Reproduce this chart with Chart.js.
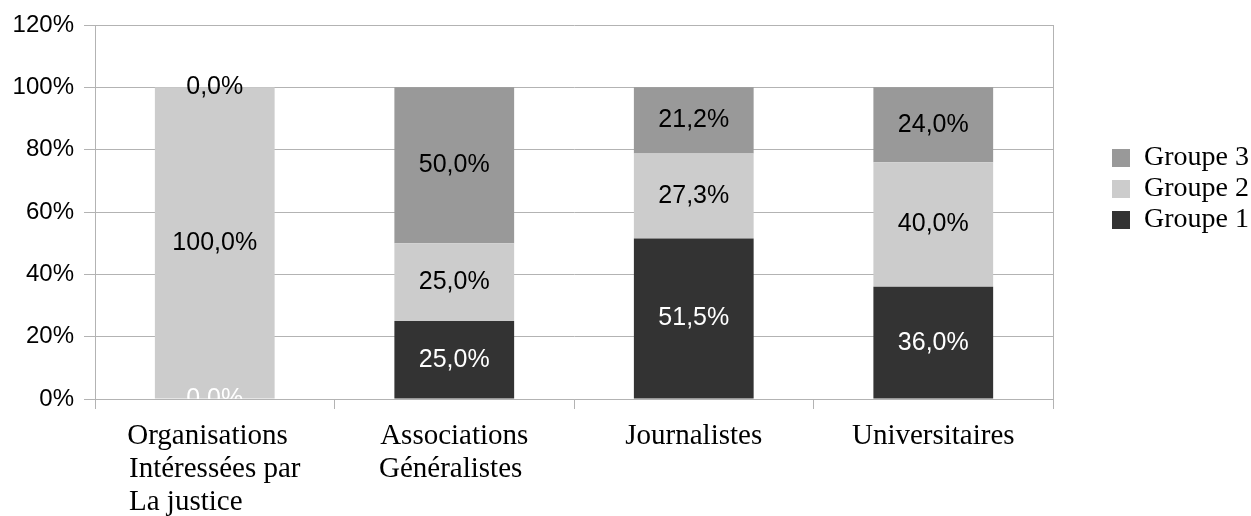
<!DOCTYPE html>
<html>
<head>
<meta charset="utf-8">
<script src="https://cdn.jsdelivr.net/npm/chart.js@4.4.1/dist/chart.umd.min.js"></script>
<style>
  body { margin: 0; background: #fff; }
  #wrap { width: 1251px; height: 516px; }
</style>
</head>
<body>
<div id="wrap"><canvas id="canvas"></canvas></div>
<script>
// categories and values (percent)
var categories = [
    ['Organisations', 'Intéressées par', 'La justice'],
    ['Associations', 'Généralistes'],
    'Journalistes',
    'Universitaires'
];
var groupe1 = [0, 25, 51.5, 36];
var groupe2 = [100, 25, 27.3, 40];
var groupe3 = [0, 50, 21.2, 24];
var yTicks = [0, 20, 40, 60, 80, 100, 120];

var gridColor = '#b3b3b3';
var serif = '"Liberation Serif", "Times New Roman", serif';
Chart.defaults.color = '#000';

// lines of a category label are left aligned in the original:
// pad the shorter lines with spaces so centred lines line up on the left
var measureCtx = document.createElement('canvas').getContext('2d');
measureCtx.font = '29px ' + serif;
function leftAlign(lines) {
    if (!Array.isArray(lines)) return lines;
    var widths = lines.map(function (l) { return measureCtx.measureText(l).width; });
    var maxW = Math.max.apply(null, widths);
    var sp = measureCtx.measureText(' ').width;
    return lines.map(function (l, i) {
        var n = Math.round((maxW - widths[i]) / sp);
        return l + ' '.repeat(n);
    });
}

// value labels in the middle of each segment
var valueLabels = {
    id: 'valueLabels',
    afterDatasetsDraw: function (chart) {
        var ctx = chart.ctx;
        var area = chart.chartArea;
        ctx.save();
        ctx.beginPath();
        ctx.rect(area.left, area.top, area.right - area.left, area.bottom - area.top);
        ctx.clip();
        ctx.font = '25px "Liberation Sans", Arial, sans-serif';
        ctx.textAlign = 'center';
        ctx.textBaseline = 'middle';
        chart.data.datasets.forEach(function (ds, i) {
            var meta = chart.getDatasetMeta(i);
            ctx.fillStyle = i === 0 ? '#fff' : '#000';
            meta.data.forEach(function (bar, j) {
                var p = bar.getProps(['x', 'y', 'base'], true);
                var txt = ds.data[j].toFixed(1).replace('.', ',') + '%';
                ctx.fillText(txt, p.x, (p.y + p.base) / 2);
            });
        });
        ctx.restore();
    }
};

var ctx = document.getElementById('canvas').getContext('2d');
var myChart = new Chart(ctx, {
    type: 'bar',
    data: {
        labels: categories,
        datasets: [
            { label: 'Groupe 1', data: groupe1, backgroundColor: '#333333' },
            { label: 'Groupe 2', data: groupe2, backgroundColor: '#cccccc' },
            { label: 'Groupe 3', data: groupe3, backgroundColor: '#999999' }
        ]
    },
    options: {
        responsive: true,
        maintainAspectRatio: false,
        animation: false,
        categoryPercentage: 1,
        barPercentage: 0.5,
        layout: { padding: { top: 25, right: -8, left: 0, bottom: 0 } },
        plugins: {
            tooltip: { enabled: false },
            legend: {
                position: 'right',
                align: 'start',
                reverse: true,
                title: { display: true, text: ' ', font: { size: 10, lineHeight: 1 }, padding: { top: 106, bottom: 0 } },
                labels: {
                    boxWidth: 18,
                    boxHeight: 18,
                    padding: 3,
                    color: '#000',
                    font: { family: serif, size: 28, lineHeight: 1 }
                }
            }
        },
        scales: {
            x: {
                stacked: true,
                grid: { drawOnChartArea: false, color: gridColor, tickLength: 10 },
                border: { color: gridColor },
                ticks: {
                    padding: 11,
                    maxRotation: 0,
                    font: { family: serif, size: 29, lineHeight: 1.14 },
                    callback: function (v, i) { return leftAlign(categories[i]); }
                },
                afterFit: function (s) { s.height = 117; }
            },
            y: {
                stacked: true,
                min: 0,
                max: 120,
                afterBuildTicks: function (s) { s.ticks = yTicks.map(function (v) { return { value: v }; }); },
                grid: { color: gridColor, tickLength: 11 },
                border: { color: gridColor },
                ticks: {
                    padding: 10,
                    font: { family: '"Liberation Sans", Arial, sans-serif', size: 24 },
                    callback: function (v) { return v + '%'; }
                },
                afterFit: function (s) { s.width = 95; }
            },
            y2: {
                type: 'linear',
                position: 'right',
                grid: { drawOnChartArea: false, drawTicks: false },
                border: { display: true, color: gridColor },
                ticks: { display: false },
                afterFit: function (s) { s.width = 56; }
            }
        }
    },
    plugins: [valueLabels]
});
</script>
</body>
</html>
